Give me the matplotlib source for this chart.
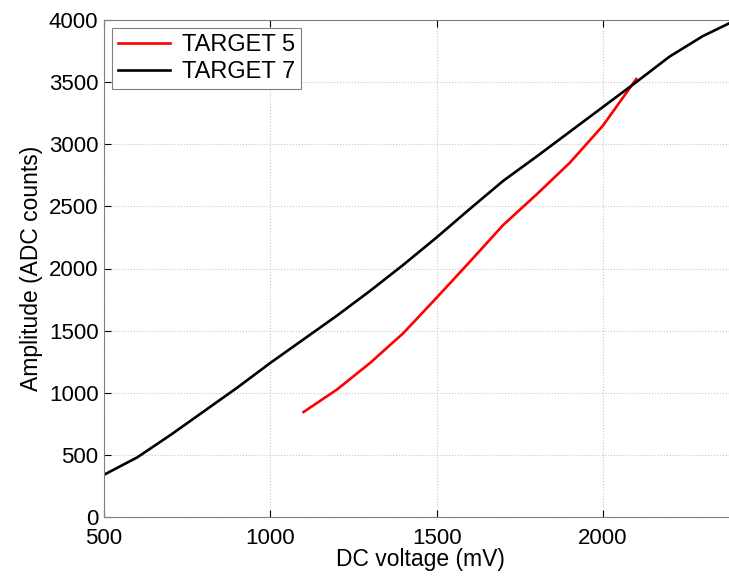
import numpy as np
import matplotlib
matplotlib.use("Agg")
import matplotlib.pyplot as plt

plt.rcParams['font.family'] = ['Liberation Sans', 'DejaVu Sans']

#* DC voltage steps (mV)
volt_t5 = [1100, 1200, 1300, 1400, 1500, 1600, 1700, 1800, 1900, 2000, 2100]
amp_t5 = [845, 1025, 1240, 1480, 1765, 2055, 2350, 2595, 2850, 3150, 3525]

volt_t7 = [500, 600, 700, 800, 900, 1000, 1100, 1200, 1300, 1400,
           1500, 1600, 1700, 1800, 1900, 2000, 2100, 2200, 2300, 2400]
amp_t7 = [340, 480, 660, 850, 1040, 1240, 1430, 1620, 1820, 2030,
          2250, 2480, 2705, 2900, 3100, 3300, 3500, 3705, 3870, 4000]

xticks = [500, 1000, 1500, 2000]
yticks = list(range(0, 4001, 500))

fig = plt.figure(figsize=(7.29, 5.77), dpi=100)
# axes run slightly past the right edge, as in the original export
ax = fig.add_axes([104/729, 60/577, 632/729, 497/577])

ax.plot(volt_t5, amp_t5, color='red', lw=1.9, label='TARGET 5')
ax.plot(volt_t7, amp_t7, color='black', lw=1.9, label='TARGET 7')

ax.set_xlim(500, 2400)
ax.set_ylim(0, 4000)
ax.set_xticks(xticks)
ax.set_yticks(yticks)
ax.grid(True, linestyle=':', color='#c8c8c8', lw=0.8)
ax.tick_params(direction='in', top=True, right=True, length=5, labelsize=16, width=0.8)
ax.tick_params(axis='x', pad=8)
ax.tick_params(axis='y', pad=4)
for s in ax.spines.values():
    s.set_color('#808080')

ax.set_xlabel('DC voltage (mV)', fontsize=16.5, labelpad=-1)
ax.set_ylabel('Amplitude (ADC counts)', fontsize=16.5, labelpad=4)

leg = ax.legend(loc='upper left', fontsize=17, fancybox=False, framealpha=1,
                edgecolor='#808080', borderaxespad=0.35, handlelength=2.2,
                handletextpad=0.5, borderpad=0.25, labelspacing=0.2)
leg.get_frame().set_linewidth(0.8)

fig.savefig('out.png', dpi=100)
